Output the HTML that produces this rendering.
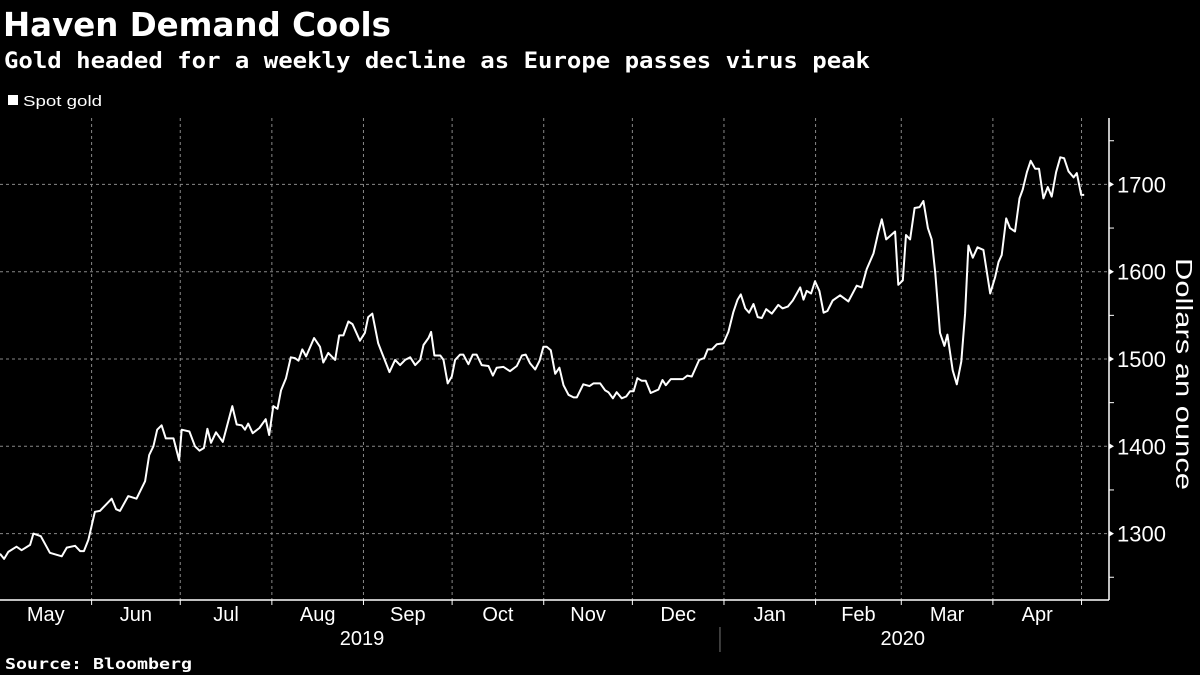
<!DOCTYPE html>
<html><head><meta charset="utf-8"><style>
body{margin:0;background:#000;width:1200px;height:675px;overflow:hidden;font-family:"Liberation Sans Narrow","Liberation Sans",sans-serif;color:#fff}
</style></head><body>
<svg width="1200" height="675" viewBox="0 0 1200 675" style="display:block">
<rect width="1200" height="675" fill="#000"/>
<text x="3" y="36" font-family="'DejaVu Sans',sans-serif" font-weight="bold" font-size="33" fill="#fff" textLength="388" lengthAdjust="spacingAndGlyphs">Haven Demand Cools</text>
<text x="4" y="68" font-family="'DejaVu Sans Mono','DejaVu Sans',sans-serif" font-weight="bold" font-size="22" fill="#fff" textLength="866" lengthAdjust="spacingAndGlyphs">Gold headed for a weekly decline as Europe passes virus peak</text>
<g>
<rect x="8" y="95" width="10" height="10" fill="#fff"/>
<text x="23" y="106" font-size="15" fill="#fff" textLength="79" lengthAdjust="spacingAndGlyphs">Spot gold</text>
</g>
<g id="grid"></g>
<g id="axes"></g>
<g id="series"></g>
<text x="5" y="669" font-family="'DejaVu Sans Mono','DejaVu Sans',sans-serif" font-weight="bold" font-size="15" fill="#fff" textLength="187" lengthAdjust="spacingAndGlyphs">Source: Bloomberg</text>
</svg>
<script>
const days=[0,1.4,2.8,5.6,7.3,10.2,11.3,13.8,16.9,20.9,22.6,25.4,27.1,28.4,29.9,32.1,33.8,37.8,39.3,40.6,43.4,46.2,49.1,50.5,51.9,53.2,54.7,56.1,58.7,60.6,61.5,64.1,66,67.5,69,70.2,71.4,73.1,75.4,78.6,80.1,81.8,82.9,84,85.5,87.8,89.9,91.1,92.5,93.9,95.1,96.8,98.4,99.8,101,102.3,103.6,106.3,108.3,109.4,111.1,113.4,114.8,116.2,117.9,119.3,121.8,123.5,124.6,126,128,129.7,131.8,133.7,
135.4,137.1,138.8,140.5,142.2,143.3,145,145.9,147,149,150.1,151.5,152.9,154,155.7,156.8,158.5,160,161.3,163,165.3,166.8,168.1,170.4,172.6,174.9,176.6,177.9,179.4,181.1,182.6,183.9,185,186.4,187.9,189.3,190.7,192.4,194.1,195.2,197.4,199.5,200.8,203.1,204.8,205.9,207.4,208.7,210.4,211.9,213.2,214.4,215.7,217.2,218.5,220.2,222.8,224.2,225.3,227,231.1,232.6,234.1,236.6,238.3,239.5,240.9,242.6,244.8,246.5,248.2,249.6,250.7,252.2,253.5,255,256.4,257.8,259.3,261.2,263.4,264.8,266.6,268.3,270.8,
271.9,273,274.5,275.8,277.3,278.7,280,281.8,284.3,287.1,289.9,291.6,293.3,295.6,297.3,298.4,299.9,302.9,304,305.5,306.6,308,309.5,311.2,312.5,314,315.3,316.5,318.1,319.6,320.6,322.4,323.8,325.3,326.6,327.7,329.2,330.8,332.8,335.1,336.8,337.9,339,340.5,341.8,343.5,345,346.1,347.5,348.8,350.3,351.6,353.1,354.6,355.9,357.4,358.8,360.1,361.6,363.3,364.4,365.9,366.9];
const prices=[1277,1271,1279,1285,1281,1287,1300,1297,1278,1274,1284,1286,1280,1280,1293,1325,1326,1340,1328,1326,1343,1340,1360,1390,1400,1419,1424,1409,1409,1384,1419,1417,1400,1395,1398,1420,1404,1416,1405,1446,1425,1424,1419,1426,1415,1421,1431,1413,1446,1443,1464,1478,1502,1501,1498,1511,1503,1524,1514,1496,1507,1499,1527,1527,1543,1540,1521,1530,1548,1552,1518,1503,1485,1499,
1493,1499,1502,1493,1499,1516,1524,1531,1504,1504,1499,1472,1480,1499,1505,1505,1494,1505,1505,1493,1492,1481,1490,1491,1486,1492,1504,1505,1495,1488,1498,1514,1514,1510,1483,1490,1470,1459,1456,1456,1471,1469,1472,1472,1464,1462,1455,1462,1455,1457,1463,1463,1478,1475,1475,1461,1465,1476,1470,1477,1477,1481,1480,1499,1501,1511,1511,1517,1518,1531,1554,1568,1574,1558,1553,1563,1548,1547,1557,1552,1562,1558,1560,1567,1582,
1568,1578,1575,1589,1578,1553,1555,1567,1573,1566,1584,1582,1603,1621,1646,1660,1637,1646,1585,1590,1642,1637,1673,1674,1681,1650,1637,1598,1530,1515,1528,1487,1471,1497,1552,1630,1616,1628,1625,1575,1594,1611,1619,1661,1650,1646,1684,1694,1714,1727,1718,1718,1684,1697,1686,1714,1731,1730,1715,1708,1713,1688,1688];
const monthLabels=["May","Jun","Jul","Aug","Sep","Oct","Nov","Dec","Jan","Feb","Mar","Apr"];
const monthStarts=[0,31,61,92,123,153,184,214,245,276,305,336,366];
const yTicks=[1300,1400,1500,1600,1700];
const yMinor=[1250,1350,1450,1550,1650,1750];
const years=["2019","2020"];

const NS="http://www.w3.org/2000/svg";
const X0=0,PXD=2.955,TOP=118,BOT=600,AXX=1109;
const xs=d=>X0+d*PXD;
const ys=v=>184.4+(1700-v)*0.873;
function mk(tag,attrs,parent,text){const e=document.createElementNS(NS,tag);for(const k in attrs)e.setAttribute(k,attrs[k]);if(text!==undefined)e.textContent=text;parent.appendChild(e);return e;}
const grid=document.getElementById('grid'),axes=document.getElementById('axes'),series=document.getElementById('series');

yTicks.forEach(v=>{
 const l=mk('line',{x1:0,x2:AXX,y1:ys(v),y2:ys(v),stroke:'#888','stroke-width':1,'stroke-dasharray':'3,3'},grid);
 
 
 const t=mk('path',{d:`M${AXX} ${ys(v)-3}L${AXX+5} ${ys(v)}L${AXX} ${ys(v)+3}Z`,fill:'#fff'},axes);
 
 
 const tx=mk('text',{x:1117,y:ys(v)+8,'font-size':22,fill:'#fff'},axes,String(v));
 
 
});
yMinor.forEach(v=>{
 const t=mk('line',{x1:AXX,x2:AXX+5,y1:ys(v),y2:ys(v),stroke:'#fff','stroke-width':1},axes);
 
 
});
monthStarts.forEach((d,i)=>{
 if(i>0){
  const g=mk('line',{x1:xs(d),x2:xs(d),y1:TOP,y2:BOT,stroke:'#888','stroke-width':1,'stroke-dasharray':'3,3'},grid);
  
  
  const t=mk('line',{x1:xs(d),x2:xs(d),y1:BOT,y2:BOT+5,stroke:'#fff','stroke-width':1},axes);
  
  
 }
 if(i<monthLabels.length){
  const cx=(xs(d)+xs(monthStarts[i+1]))/2;
  const tx=mk('text',{x:cx,y:621,'font-size':20,fill:'#fff','text-anchor':'middle'},axes,monthLabels[i]);
  
  
 }
});
const xa=mk('line',{x1:0,x2:AXX,y1:BOT,y2:BOT,stroke:'#fff','stroke-width':1.5},axes);


const ya=mk('line',{x1:AXX,x2:AXX,y1:TOP,y2:BOT,stroke:'#fff','stroke-width':1.5},axes);


const sep=mk('line',{x1:xs(245)-4,x2:xs(245)-4,y1:627,y2:652,stroke:'#777','stroke-width':1},axes);


[[0,245],[245,366]].forEach((r,i)=>{
 const tx=mk('text',{x:(xs(r[0])+xs(r[1]))/2,y:645,'font-size':20,fill:'#fff','text-anchor':'middle'},axes,years[i]);
 
 
});
const at=mk('text',{x:-116,y:0,transform:'translate(1176,374) rotate(90)','font-size':23,fill:'#fff',textLength:232,lengthAdjust:'spacingAndGlyphs'},axes,'Dollars an ounce');


const dstr=days.map((d,i)=>(i?'L':'M')+xs(d).toFixed(1)+' '+ys(prices[i]).toFixed(1)).join('');
const line=mk('path',{d:dstr,fill:'none',stroke:'#fff','stroke-width':2,'stroke-linejoin':'round'},series);


</script>
</body></html>
